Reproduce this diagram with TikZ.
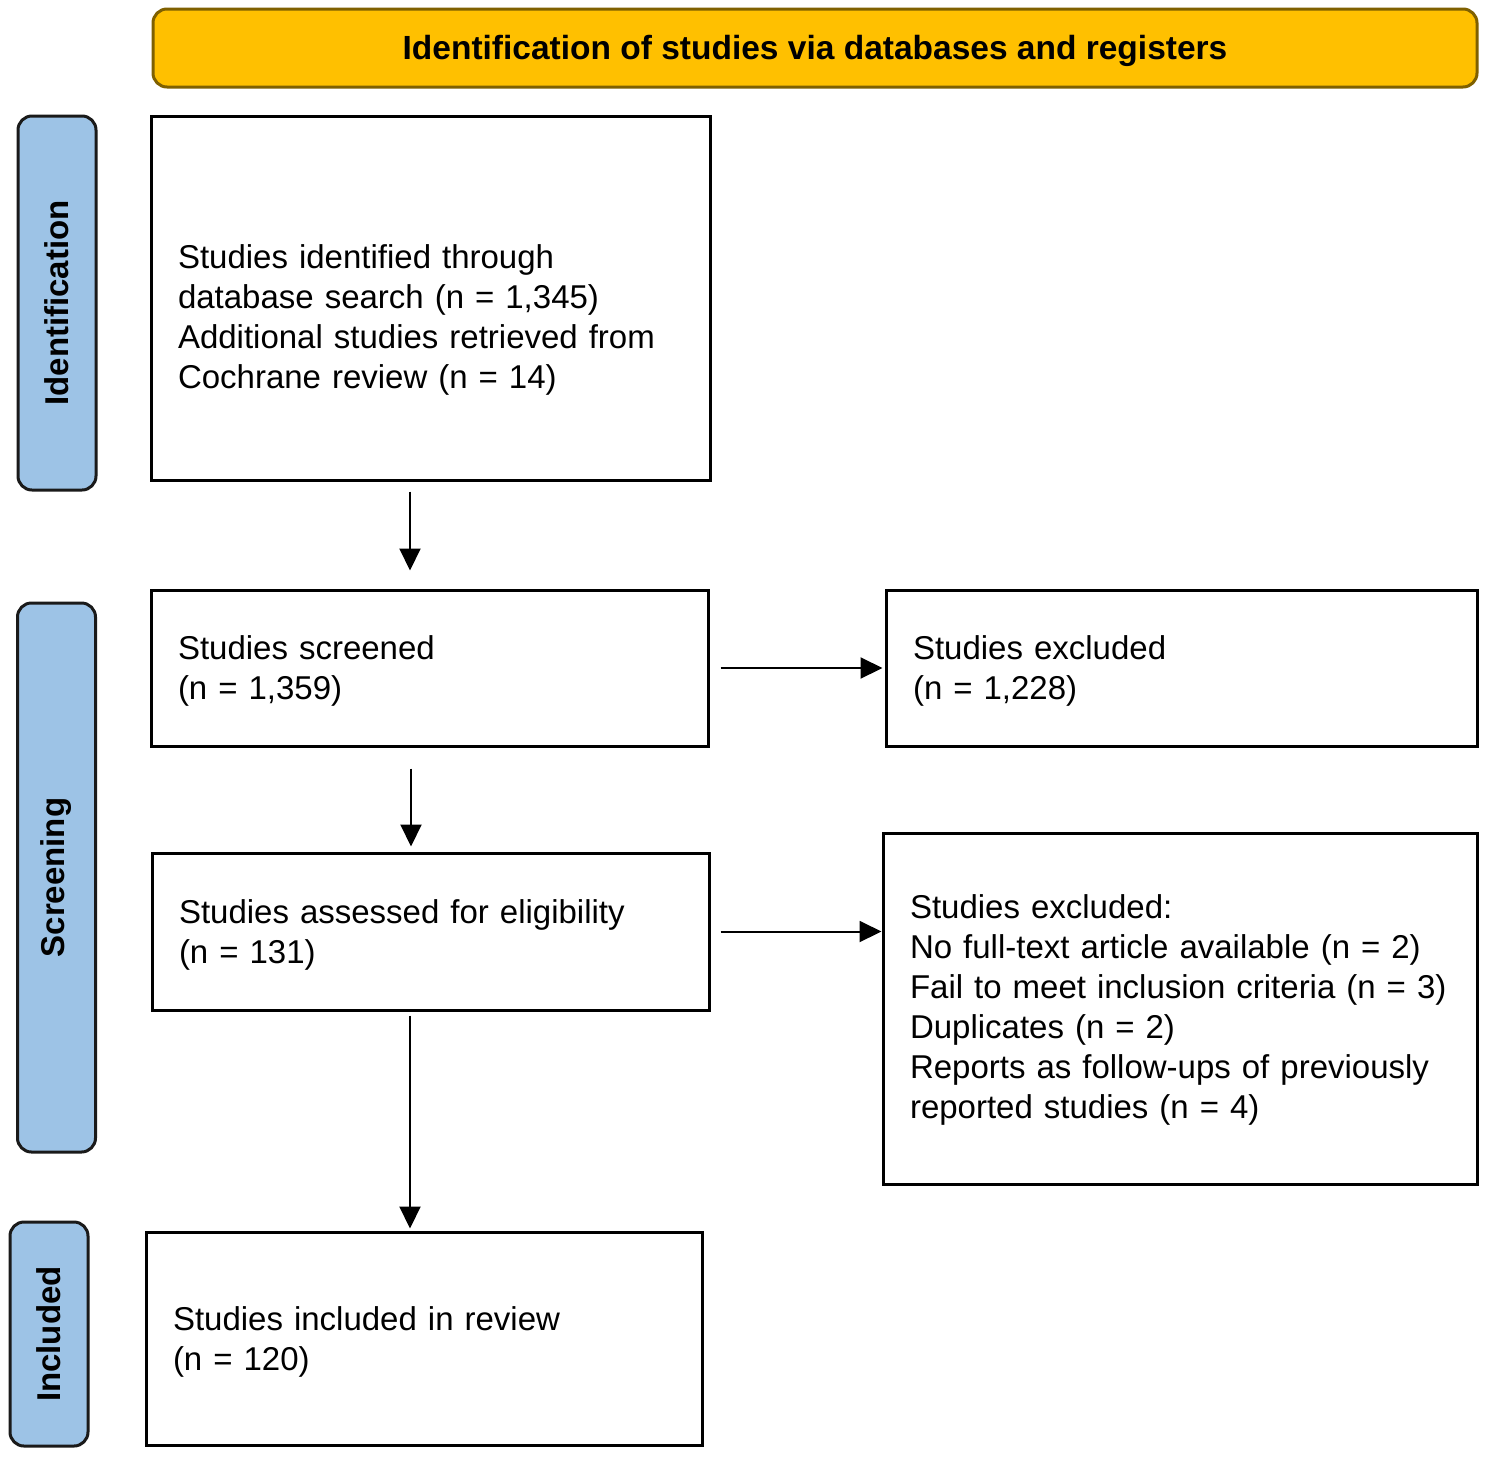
\documentclass[tikz,border=0pt]{standalone}
\usepackage{fontspec}
\setmainfont{Liberation Sans}
\usetikzlibrary{arrows.meta,calc}
\definecolor{bannerfill}{HTML}{FFC000}
\definecolor{bannerdraw}{HTML}{7F6000}
\definecolor{sidefill}{HTML}{9DC3E6}
\definecolor{sidedraw}{HTML}{1A1A1A}
\newcommand{\topgap}[1]{\rule{0pt}{#1pt}}
\begin{document}
\begin{tikzpicture}[x=1pt,y=1pt,
  banner/.style={draw=bannerdraw, fill=bannerfill, line width=3pt, rounded corners=14pt,
    minimum width=1324pt, minimum height=78pt, inner sep=0pt, font=\fontsize{33.5}{40}\selectfont\bfseries},
  side/.style={draw=sidedraw, fill=sidefill, line width=3pt, rounded corners=14pt, rotate=90,
    minimum height=78pt, inner sep=0pt, font=\fontsize{33}{40}\selectfont\bfseries},
  box/.style={draw=black, line width=3pt, inner xsep=27pt, inner ysep=0pt, align=left,
    font=\fontsize{33}{40}\selectfont},
  arr/.style={line width=2pt, -{Triangle[length=22pt,width=21pt]}}
]
\useasboundingbox (0,0) rectangle (1488,-1457);
\fill[white] (0,0) rectangle (1488,-1457);

% banner
\node[banner] (banner) at (815,-48) {\raisebox{-3pt}[\height][\depth]{Identification of studies via databases and registers}};

% side labels
\node[side, minimum width=374pt] (sideid) at (57,-303) {Identification};
\node[side, minimum width=549pt] (sidescr) at (56.5,-877.5) {Screening};
\node[side, minimum width=224pt] (sideinc) at (49,-1334) {Included};

% boxes
\node[box, text width=505pt, minimum height=364pt] (b1) at (430.5,-298)
  {\topgap{68}Studies identified through\\database search (n = 1,345)\\Additional studies retrieved from\\Cochrane review (n = 14)};
\node[box, text width=503pt, minimum height=156pt] (b2) at (429.5,-668)
  {\topgap{30}Studies screened\\(n = 1,359)};
\node[box, text width=537pt, minimum height=156pt] (b3) at (1181.5,-668)
  {\topgap{30}Studies excluded\\(n = 1,228)};
\node[box, text width=503pt, minimum height=157pt] (b4) at (430.5,-931.5)
  {\topgap{30}Studies assessed for eligibility\\(n = 131)};
\node[box, text width=540pt, minimum height=351pt] (b5) at (1180,-1008.5)
  {\topgap{26}Studies excluded:\\No full-text article available (n = 2)\\Fail to meet inclusion criteria (n = 3)\\Duplicates (n = 2)\\Reports as follow-ups of previously\\reported studies (n = 4)};
\node[box, text width=502pt, minimum height=213pt] (b6) at (424,-1338.5)
  {\topgap{30}Studies included in review\\(n = 120)};

% connector columns
\coordinate (colA) at (410,0);
\coordinate (colB) at (411,0);

\draw[arr, shorten <=10pt, shorten >=18pt] (b1.south -| colA) -- (b2.north -| colA);
\draw[arr, shorten <=11pt, shorten >=2pt] (b2.east) -- (b3.west);
\draw[arr, shorten <=21pt, shorten >=5pt] (b2.south -| colB) -- (b4.north -| colB);
\draw[arr, shorten <=10pt, shorten >=0pt] (b4.east) -- (b4.east -| b5.west);
\draw[arr, shorten <=4pt, shorten >=2pt] (b4.south -| colA) -- (b6.north -| colA);
\end{tikzpicture}
\end{document}
